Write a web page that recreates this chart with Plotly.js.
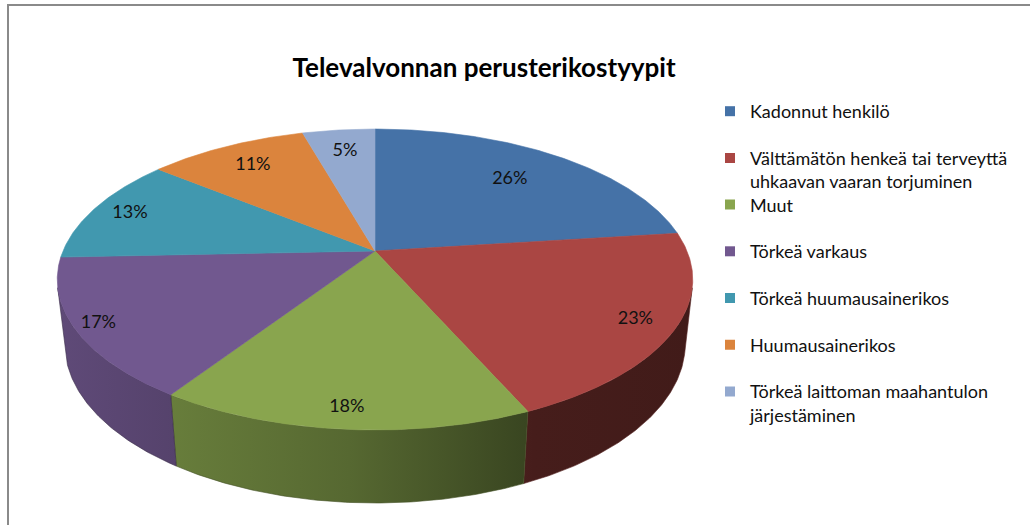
<!DOCTYPE html>
<html>
<head>
<meta charset="utf-8">
<script src="https://cdn.plot.ly/plotly-3.0.1.min.js"></script>
<style>
  html, body { margin: 0; padding: 0; background: #ffffff; }
  #chart { width: 1030px; height: 525px; }
</style>
</head>
<body>
<div id="chart"></div>
<script>
// ---------- data ----------
const chartTitle = 'Televalvonnan perusterikostyypit';
const categories = [
  'Kadonnut henkilö',
  'Välttämätön henkeä tai terveyttä uhkaavan vaaran torjuminen',
  'Muut',
  'Törkeä varkaus',
  'Törkeä huumausainerikos',
  'Huumausainerikos',
  'Törkeä laittoman maahantulon järjestäminen'
];
const legendLabels = [
  'Kadonnut henkilö',
  'Välttämätön henkeä tai terveyttä<br>uhkaavan vaaran torjuminen',
  'Muut',
  'Törkeä varkaus',
  'Törkeä huumausainerikos',
  'Huumausainerikos',
  'Törkeä laittoman maahantulon<br>järjestäminen'
];
const values = [26, 23, 18, 17, 13, 11, 5];
const labelTexts = values.map(v => v + '%');

// ---------- styles ----------
const colors = ['#4572A7', '#AA4643', '#89A54E', '#71588F', '#4198AF', '#DB843D', '#93A9CF'];
const FONT = 'Lato, Carlito, "Open Sans", sans-serif';
// projection of the tilted 3-D pie (pixel-like axis units)
const geo = { cx: 375, cy: 251, s: 312, sa: 0.465, ca: 0.885, D: 4.67, h: 0.2357 };
const labelRadius = [0.72, 0.88, 0.9, 0.93, 0.87, 0.8, 0.8];
// legend: slot pitch in px, first slot top
const legendTop = 93, legendPitch = 46.7, legendLeft = 710;

function proj(r, thetaDeg, yw) {
  const t = thetaDeg * Math.PI / 180;
  const X = r * Math.sin(t), Z = -r * Math.cos(t);
  const Yc = yw * geo.ca - Z * geo.sa;
  const Zc = geo.D - (yw * geo.sa + Z * geo.ca);
  const f = geo.D / Zc;
  return [geo.cx + geo.s * X * f, geo.cy - geo.s * Yc * f];
}
function shade(hex, k) {
  const n = parseInt(hex.slice(1), 16);
  const r = Math.round(((n >> 16) & 255) * k), g = Math.round(((n >> 8) & 255) * k), b = Math.round((n & 255) * k);
  return 'rgb(' + r + ',' + g + ',' + b + ')';
}
function arc(a0, a1, yw) {
  const pts = [];
  const n = Math.max(2, Math.ceil(Math.abs(a1 - a0) / 0.5));
  for (let i = 0; i <= n; i++) pts.push(proj(1, a0 + (a1 - a0) * i / n, yw));
  return pts;
}

const total = values.reduce((a, b) => a + b, 0);
const starts = [], ends = [];
let acc = 0;
values.forEach(v => { starts.push(acc / total * 360); acc += v; ends.push(acc / total * 360); });

// visible side range
const visLim = Math.acos(-1 / (geo.D * geo.ca)) * 180 / Math.PI;
const visA = visLim, visB = 360 - visLim;

const traces = [];
// side walls
values.forEach((v, i) => {
  const a0 = Math.max(starts[i], visA), a1 = Math.min(ends[i], visB);
  if (a1 <= a0) return;
  const top = arc(a0, a1, 0);
  const bot = arc(a1, a0, -geo.h);
  const pts = top.concat(bot);
  pts.push(top[0]);
  traces.push({
    type: 'scatter', mode: 'lines', fill: 'toself',
    x: pts.map(p => p[0]), y: pts.map(p => p[1]),
    line: { width: 0.6, color: shade(colors[i], 0.5) },
    fillgradient: {
      type: 'horizontal', start: geo.cx - geo.s * 1.02, stop: geo.cx + geo.s * 1.02,
      colorscale: [[0, shade(colors[i], 0.84)], [0.46, shade(colors[i], 0.63)], [0.75, shade(colors[i], 0.41)], [1, shade(colors[i], 0.38)]]
    },
    showlegend: false, hoverinfo: 'skip'
  });
});
// top faces
values.forEach((v, i) => {
  const c = proj(0, 0, 0);
  const pts = [c].concat(arc(starts[i], ends[i], 0));
  pts.push(c);
  traces.push({
    type: 'scatter', mode: 'lines', fill: 'toself',
    x: pts.map(p => p[0]), y: pts.map(p => p[1]),
    fillcolor: colors[i], line: { width: 0.6, color: colors[i] },
    name: categories[i], showlegend: false, hoverinfo: 'skip'
  });
});
// data labels
const lab = values.map((v, i) => proj(labelRadius[i], (starts[i] + ends[i]) / 2, 0));
traces.push({
  type: 'scatter', mode: 'text',
  x: lab.map(p => p[0]), y: lab.map(p => p[1]),
  text: labelTexts, textposition: 'middle center',
  textfont: { family: FONT, size: 18, color: '#111111' },
  showlegend: false, hoverinfo: 'skip'
});

const layout = {
  width: 1030, height: 525,
  margin: { l: 0, r: 0, t: 0, b: 0 },
  paper_bgcolor: '#ffffff', plot_bgcolor: '#ffffff',
  title: {
    text: '<b>' + chartTitle + '</b>',
    font: { family: FONT, size: 26, color: '#000000' },
    x: 0.47, xanchor: 'center', xref: 'container',
    y: 1 - 68 / 525, yanchor: 'middle', yref: 'container'
  },
  xaxis: { range: [0, 1030], visible: false, fixedrange: true },
  yaxis: { range: [525, 0], visible: false, fixedrange: true },
  showlegend: true,
  shapes: [{
    type: 'rect', xref: 'x', yref: 'y', x0: 8, y0: 5, x1: 1060, y1: 560,
    line: { color: '#8a8a8a', width: 2 }, layer: 'above'
  }]
};

// legend entries: one legend per entry so every entry sits in its own slot
values.forEach((v, i) => {
  const key = i === 0 ? 'legend' : 'legend' + (i + 1);
  traces.push({
    type: 'scatter', mode: 'markers', x: [null], y: [null],
    marker: { symbol: 'square', size: 10, color: colors[i] },
    name: legendLabels[i], legend: key, showlegend: true
  });
  layout[key] = {
    x: legendLeft / 1030, xanchor: 'left',
    y: 1 - (legendTop + i * legendPitch) / 525, yanchor: 'top',
    font: { family: FONT, size: 18, color: '#111111' },
    valign: 'top',
    bgcolor: 'rgba(0,0,0,0)', borderwidth: 0
  };
});

Plotly.newPlot('chart', traces, layout, { staticPlot: true, displayModeBar: false });
</script>
</body>
</html>
